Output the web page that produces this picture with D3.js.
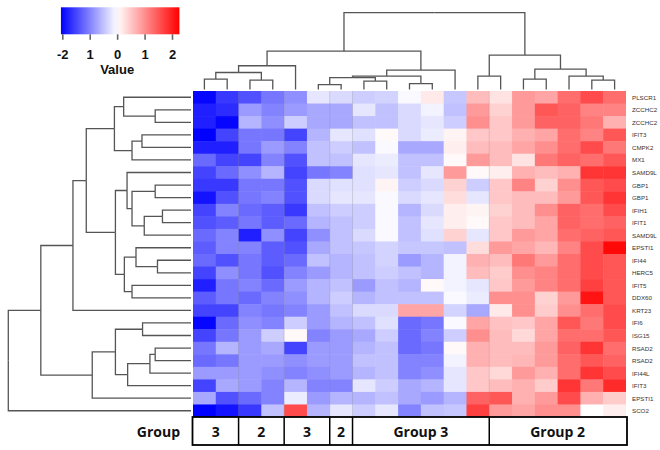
<!DOCTYPE html>
<html lang="en">
<head>
<meta charset="utf-8">
<title>Heatmap with dendrograms</title>
<script src="https://cdn.jsdelivr.net/npm/d3@7"></script>
<style>
  body { margin: 0; background: #fff; }
  text { font-family: "Open Sans", "DejaVu Sans", sans-serif; }
  .rowLabel { font-family: "Liberation Sans Narrow", "Liberation Sans", Arial, sans-serif; font-size: 6.2px; fill: #333; }
  .dendro { fill: none; stroke: #555; stroke-width: 1.3; }
  .legendAxis path { display: none; }
  .legendAxis line { stroke: #666; stroke-width: 1.6; }
  .legendAxis text, .keyTitle { font-family: "Liberation Sans", Arial, sans-serif; font-size: 13px; font-weight: bold; fill: #111; }
</style>
</head>
<body>
<script>

// gene names, top to bottom
var rowLabels = ["PLSCR1", "ZCCHC2", "ZCCHC2", "IFIT3", "CMPK2", "MX1", "SAMD9L", "GBP1", "GBP1",
  "IFIH1", "IFIT1", "SAMD9L", "EPSTI1", "IFI44", "HERC5", "IFIT5", "DDX60", "KRT23", "IFI6",
  "ISG15", "RSAD2", "RSAD2", "IFI44L", "IFIT3", "EPSTI1", "SCO2"];

// z-scores, one row per gene, 19 samples
var expression = [
  [-2.0, -1.6, -1.4, -1.1, -0.9, -0.2, -0.3, -0.4, -0.35, -0.05, 0.2, -0.45, 0.6, 0.25, 0.9, 0.8, 1.3, 1.6, 1.3],
  [-1.8, -1.7, -0.8, -1.0, -0.8, -0.7, -0.7, -0.2, -0.5, -0.3, -0.1, -0.5, 0.9, 0.4, 0.9, 1.5, 1.4, 1.1, 1.1],
  [-1.8, -2.0, -0.6, -0.9, -0.4, -0.7, -0.7, -0.5, -0.5, -0.3, -0.2, -0.4, 1.0, 0.5, 0.9, 1.4, 1.4, 1.2, 0.7],
  [-2.2, -1.5, -1.1, -1.1, -1.5, -0.6, -0.2, -0.25, 0.05, -0.3, -0.15, 0.1, 0.5, 0.5, 0.7, 0.8, 1.3, 1.1, 1.5],
  [-1.8, -1.8, -1.1, -0.8, -1.0, -0.5, -0.4, -0.5, -0.05, -0.7, -0.7, 0.15, 0.6, 0.6, 0.8, 1.0, 1.3, 1.6, 1.2],
  [-1.2, -1.5, -1.5, -1.0, -1.4, -0.5, -0.5, -0.2, -0.15, -0.5, -0.5, 0.05, 0.9, 0.6, 0.25, 1.2, 1.4, 1.3, 1.5],
  [-1.5, -1.2, -0.9, -0.6, -1.5, -1.1, -1.0, -0.25, -0.2, -0.5, -0.2, 0.9, 0.05, 0.15, 0.7, 0.6, 0.7, 1.8, 1.8],
  [-1.6, -1.6, -1.1, -1.1, -1.4, -0.3, -0.25, -0.25, 0.1, -0.4, -0.3, 0.4, -0.4, 0.5, 1.1, 0.4, 1.0, 1.5, 1.6],
  [-1.9, -1.4, -1.1, -1.0, -1.4, -0.3, -0.2, -0.2, -0.05, -0.3, -0.2, 0.3, -0.2, 0.5, 0.6, 0.6, 0.9, 1.5, 1.8],
  [-1.5, -1.0, -1.2, -1.3, -1.6, -0.5, -0.4, -0.4, -0.05, -0.6, -0.3, 0.15, 0.1, 0.4, 0.6, 1.0, 1.4, 1.3, 1.6],
  [-1.4, -1.3, -1.1, -1.3, -1.2, -0.6, -0.5, -0.4, -0.05, -0.5, -0.2, 0.15, 0.05, 0.5, 0.6, 0.8, 1.4, 1.3, 1.4],
  [-1.2, -1.0, -1.8, -0.9, -1.5, -0.9, -0.5, -0.3, -0.05, -0.5, -0.25, 0.4, -0.2, 0.5, 0.9, 0.8, 1.3, 1.4, 1.5],
  [-1.3, -1.0, -1.0, -1.3, -1.4, -0.7, -0.5, -0.45, -0.35, -0.45, -0.45, -0.5, 0.3, 0.9, 0.8, 0.65, 1.1, 1.6, 2.2],
  [-1.2, -1.4, -1.1, -1.3, -1.2, -0.5, -0.6, -0.5, -0.35, -0.8, -0.6, -0.1, 0.7, 0.6, 1.2, 0.9, 1.3, 1.6, 1.5],
  [-1.5, -0.9, -1.1, -1.4, -1.0, -0.8, -0.6, -0.5, -0.4, -0.5, -0.6, -0.1, 0.6, 0.45, 1.0, 1.1, 1.3, 1.6, 1.5],
  [-1.8, -1.1, -1.0, -1.2, -0.8, -0.6, -0.5, -0.8, -0.5, -0.6, 0.05, -0.1, -0.2, 0.5, 0.9, 1.1, 1.3, 1.7, 1.5],
  [-1.3, -1.1, -1.2, -1.0, -0.9, -0.6, -0.4, -0.6, -0.5, -0.5, -0.5, -0.05, -0.15, 1.0, 1.0, 0.4, 0.9, 2.1, 1.5],
  [-1.5, -1.5, -1.0, -1.1, -1.0, -0.8, -0.5, -0.3, -0.3, 0.8, 0.8, -0.35, -0.7, 0.2, 1.0, 0.45, 1.0, 1.3, 1.6],
  [-2.0, -1.2, -0.9, -1.0, -0.4, -0.8, -0.6, -0.5, -0.25, -1.2, -1.1, -0.05, 0.8, 0.55, 0.5, 0.8, 1.5, 1.2, 1.6],
  [-1.5, -1.1, -0.8, -0.4, 0.05, -1.0, -0.8, -0.7, -0.4, -1.2, -1.0, -0.4, 1.0, 0.6, 0.35, 0.8, 1.3, 1.3, 1.5],
  [-1.1, -0.6, -0.8, -0.7, -1.5, -0.8, -0.8, -0.6, -0.5, -1.2, -1.1, 0.05, 0.7, 0.6, 0.6, 0.9, 1.4, 1.8, 1.3],
  [-1.2, -1.1, -0.8, -0.8, -0.9, -0.8, -0.8, -0.5, -0.5, -1.0, -1.0, -0.1, 0.7, 0.6, 0.65, 0.9, 1.3, 1.5, 1.4],
  [-0.8, -0.8, -0.8, -0.9, -1.0, -0.9, -0.8, -0.6, -0.5, -1.0, -0.9, -0.2, 0.5, 0.35, 0.9, 0.7, 1.3, 1.8, 1.6],
  [-1.5, -0.7, -0.8, -1.0, -0.6, -1.0, -1.0, -0.2, -0.4, -0.7, -0.6, -0.2, 0.5, 0.6, 0.7, 0.45, 1.8, 1.2, 1.9],
  [-0.7, -1.4, -1.2, -1.0, -0.15, -0.8, -0.6, -0.6, -0.5, -0.7, -0.8, -0.6, 1.4, 1.5, 0.7, 0.9, 1.6, 0.7, 0.45],
  [-2.1, -1.9, -1.6, -0.5, 1.6, -0.6, -0.2, -0.4, -0.2, -1.0, -0.5, -0.45, 1.7, 0.9, 0.8, 1.0, 1.0, 0.0, 0.15]
];

// sample groups along the bottom (first column of each group)
var groupLabels = ["3", "2", "3", "2", "Group 3", "Group 2"];
var groupStarts = [0, 2, 4, 6, 7, 13];

// dendrograms: leaf = column/row index, node = [merge height, left, right]
var colTree = [76.7,
  [38.3,
    [23.7, [17, [10.3, 0, 1], [9.3, 2, 3]], 4],
    [19.3, [13.3, [11.8, [4.8, 5, 6], [8.3, 7, 8]], [5.8, 9, 10]], 11]],
  [34.3, [13.3, 12, 13], [20.3, [10.3, 14, 15], [13.3, 16, [9.3, 17, 18]]]]];

var rowTree = [183.7,
  [151,
    [118.7,
      [105.3,
        [77, [67.7, 0, [36, 1, 2]], [59.3, [49.3, 3, 4], 5]],
        [76,
          [64.3, 6, [59.3, [36, 7, 8], [47, [28.7, 9, 10], 11]]],
          [67, [55.3, 12, [33.7, 13, 14]], [59.3, 15, 16]]]],
      17],
    [99.3, [76, [48.7, 18, 19], [63.7, [41.3, [36, 20, 21], 22], 23]], 24]],
  25];

// colour key
var colorMin = -2.05, colorMax = 2.27;
var legendTicks = [-2, -1, 0, 1, 2];
var legendTickLabels = ["-2", "1", "0", "1", "2"];

//Width and height
var w = 660;
var h = 450;

var svg = d3.select("body")
  .append("svg")
  .attr("width", w)
  .attr("height", h);

var nCols = expression[0].length;

//Scales
var xScale = d3.scaleBand()
  .domain(d3.range(nCols))
  .range([193, 626]);

var yScale = d3.scaleBand()
  .domain(d3.range(rowLabels.length))
  .range([91, 417]);

var color = d3.scaleLinear()
  .domain([colorMin, 0, colorMax])
  .range(["#0000ff", "#ffffff", "#ff0000"])
  .clamp(true);

//Heatmap cells
var cells = [];
expression.forEach(function(row, i) {
  row.forEach(function(v, j) { cells.push({ r: i, c: j, v: v }); });
});

svg.append("g")
  .selectAll("rect")
  .data(cells)
  .enter()
  .append("rect")
  .attr("x", function(d) { return xScale(d.c); })
  .attr("y", function(d) { return yScale(d.r); })
  .attr("width", function(d) { return xScale.bandwidth() + (d.c < nCols - 1 ? 0.5 : 0); })
  .attr("height", function(d) { return yScale.bandwidth() + (d.r < rowLabels.length - 1 ? 0.5 : 0); })
  .attr("fill", function(d) { return color(d.v); });

//faint separators between sample groups
svg.append("g")
  .selectAll("line")
  .data(groupStarts.slice(1))
  .enter()
  .append("line")
  .attr("x1", function(d) { return xScale(d); })
  .attr("x2", function(d) { return xScale(d); })
  .attr("y1", yScale.range()[0])
  .attr("y2", yScale.range()[1])
  .attr("stroke", "#888")
  .attr("stroke-opacity", 0.35)
  .attr("stroke-width", 0.8);

//Row labels
svg.append("g")
  .selectAll("text")
  .data(rowLabels)
  .enter()
  .append("text")
  .attr("class", "rowLabel")
  .attr("x", 632)
  .attr("y", function(d, i) { return yScale(i) + yScale.bandwidth() / 2; })
  .attr("dominant-baseline", "central")
  .text(function(d) { return d; });

//Dendrograms
function toNode(t) {
  if (typeof t === "number") return { leaf: t, h: 0 };
  return { h: t[0], children: [toNode(t[1]), toNode(t[2])] };
}

function layout(tree, band) {
  var root = d3.hierarchy(toNode(tree));
  root.eachAfter(function(n) {
    n.pos = n.children ? d3.mean(n.children, function(c) { return c.pos; })
                       : band(n.data.leaf) + band.bandwidth() / 2;
  });
  return root;
}

var colRoot = layout(colTree, xScale);
var colH = d3.scaleLinear().domain([0, colTree[0]]).range([89.5, 12.7]);

svg.append("g")
  .selectAll("path")
  .data(colRoot.links())
  .enter()
  .append("path")
  .attr("class", "dendro")
  .attr("d", function(l) {
    return "M" + l.target.pos + "," + colH(l.target.data.h) +
           "V" + colH(l.source.data.h) + "H" + l.source.pos;
  });

var rowRoot = layout(rowTree, yScale);
var rowH = d3.scaleLinear().domain([0, rowTree[0]]).range([191, 8.3]);

svg.append("g")
  .selectAll("path")
  .data(rowRoot.links())
  .enter()
  .append("path")
  .attr("class", "dendro")
  .attr("d", function(l) {
    return "M" + rowH(l.target.data.h) + "," + l.target.pos +
           "H" + rowH(l.source.data.h) + "V" + l.source.pos;
  });

//Colour key
var legendX = d3.scaleLinear().domain([-2, 2]).range([62.3, 172]);

var grad = svg.append("defs")
  .append("linearGradient")
  .attr("id", "keyGrad");

grad.selectAll("stop")
  .data(d3.range(0, 1.0001, 0.05))
  .enter()
  .append("stop")
  .attr("offset", function(t) { return t; })
  .attr("stop-color", function(t) { return color(colorMin + t * (colorMax - colorMin)); });

svg.append("rect")
  .attr("x", legendX(colorMin))
  .attr("y", 7.3)
  .attr("width", legendX(colorMax) - legendX(colorMin))
  .attr("height", 27)
  .attr("fill", "url(#keyGrad)");

var keyAxis = svg.append("g")
  .attr("class", "legendAxis")
  .attr("transform", "translate(0,34.3)")
  .call(d3.axisBottom(legendX)
    .tickValues(legendTicks)
    .tickSize(5.5)
    .tickFormat(function(d, i) { return legendTickLabels[i]; }));

keyAxis.selectAll("text")
  .attr("y", 25)
  .attr("dy", null);

svg.append("text")
  .attr("class", "keyTitle")
  .attr("x", legendX(0))
  .attr("y", 74.3)
  .attr("text-anchor", "middle")
  .text("Value");

//Group bar
var gTop = 417, gBottom = 445;
var groups = groupLabels.map(function(lab, i) {
  var end = i < groupStarts.length - 1 ? groupStarts[i + 1] : nCols;
  return { label: lab, x0: xScale(groupStarts[i]), x1: end < nCols ? xScale(end) : xScale.range()[1] };
});

var gBar = svg.append("g");

gBar.append("rect")
  .attr("x", xScale.range()[0] - 0.5)
  .attr("y", gTop)
  .attr("width", xScale.range()[1] - xScale.range()[0] + 1.5)
  .attr("height", gBottom - gTop)
  .attr("fill", "none")
  .attr("stroke", "#000")
  .attr("stroke-width", 1.8);

gBar.selectAll("line")
  .data(groups.slice(1))
  .enter()
  .append("line")
  .attr("x1", function(d) { return d.x0; })
  .attr("x2", function(d) { return d.x0; })
  .attr("y1", gTop)
  .attr("y2", gBottom)
  .attr("stroke", "#000")
  .attr("stroke-width", 1.5);

gBar.selectAll("text")
  .data(groups)
  .enter()
  .append("text")
  .attr("x", function(d) { return (d.x0 + d.x1) / 2; })
  .attr("y", 436.5)
  .attr("text-anchor", "middle")
  .style("font-size", "14px")
  .style("font-weight", "bold")
  .style("fill", "#111")
  .text(function(d) { return d.label; });

gBar.append("text")
  .attr("x", 180)
  .attr("y", 436.5)
  .attr("text-anchor", "end")
  .style("font-size", "14px")
  .style("font-weight", "bold")
  .style("fill", "#111")
  .text("Group");

</script>
</body>
</html>
